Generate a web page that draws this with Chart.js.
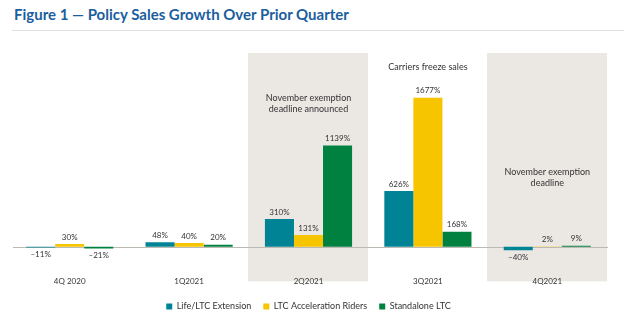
<!DOCTYPE html>
<html lang="en">
<head>
<meta charset="UTF-8">
<title>Policy Sales Growth</title>
<script src="https://cdn.jsdelivr.net/npm/chart.js"></script>
<style>
  html, body { margin: 0; padding: 0; background: #fff; }
  body { width: 624px; height: 321px; position: relative; overflow: hidden; font-family: Lato, sans-serif; }
  #title { position: absolute; left: 14px; top: 5px; font-size: 15px; font-weight: bold; color: #1b5e9e; white-space: nowrap; }
  #rule { position: absolute; left: 12px; right: 0; top: 30px; height: 1px; background: #e4e1dc; }
  #wrap { position: absolute; left: 0; top: 36px; width: 624px; height: 285px; }
</style>
</head>
<body>
<div id="title">Figure 1 — Policy Sales Growth Over Prior Quarter</div>
<div id="rule"></div>
<div id="wrap"><canvas id="chart"></canvas></div>

<script>
// Data
const quarters = ['4Q 2020', '1Q2021', '2Q2021', '3Q2021', '4Q2021'];
const lifeExtension = [-11, 48, 310, 626, -40];
const accelRiders = [30, 40, 131, 1677, 2];
const standaloneLtc = [-21, 20, 1139, 168, 9];

// Shaded quarters and notes (anchored to category + value)
const shadedQuarters = ['2Q2021', '4Q2021'];
const notes = [
  { quarter: '2Q2021', value: 1675, lines: ['November exemption', 'deadline announced'] },
  { quarter: '3Q2021', value: 2020, lines: ['Carriers freeze sales'] },
  { quarter: '4Q2021', value: 840, lines: ['November exemption', 'deadline'] }
];

const textColor = '#333';

// Background panels behind shaded quarters
const panels = {
  id: 'panels',
  beforeDraw(chart) {
    const { ctx, chartArea, scales: { x } } = chart;
    const step = x.getPixelForValue(1) - x.getPixelForValue(0);
    ctx.save();
    ctx.fillStyle = '#ebe8e4';
    shadedQuarters.forEach(q => {
      const cx = x.getPixelForValue(quarters.indexOf(q));
      ctx.fillRect(Math.round(cx - step / 2) - 1, chartArea.top, Math.round(step) + 1, chartArea.bottom - chartArea.top + 17);
    });
    // zero line
    const y0 = chart.scales.y.getPixelForValue(0);
    ctx.strokeStyle = '#bdb9b3';
    ctx.lineWidth = 1;
    ctx.beginPath();
    ctx.moveTo(chartArea.left + 3, Math.round(y0) + 0.5);
    ctx.lineTo(chartArea.right + 1, Math.round(y0) + 0.5);
    ctx.stroke();
    ctx.restore();
  }
};

// Value labels and notes
const labels = {
  id: 'labels',
  afterDatasetsDraw(chart) {
    const { ctx, scales: { x, y } } = chart;
    ctx.save();
    ctx.fillStyle = textColor;
    ctx.font = '8px Lato, sans-serif';
    ctx.textAlign = 'center';
    chart.data.datasets.forEach((ds, i) => {
      chart.getDatasetMeta(i).data.forEach((bar, j) => {
        const v = ds.data[j];
        if (v >= 0) {
          ctx.textBaseline = 'bottom';
          ctx.fillText(v + '%', bar.x, bar.y - 3);
        } else {
          ctx.textBaseline = 'top';
          ctx.fillText('\u2013' + Math.abs(v) + '%', bar.x, bar.y + 3);
        }
      });
    });
    ctx.font = '9px Lato, sans-serif';
    ctx.textBaseline = 'middle';
    notes.forEach(n => {
      const cx = x.getPixelForValue(quarters.indexOf(n.quarter));
      const cy = y.getPixelForValue(n.value);
      n.lines.forEach((line, k) => ctx.fillText(line, cx, cy + k * 11));
    });
    ctx.restore();
  }
};

new Chart(document.getElementById('chart'), {
  type: 'bar',
  data: {
    labels: quarters,
    datasets: [
      { label: 'Life/LTC Extension', data: lifeExtension, backgroundColor: '#008394' },
      { label: 'LTC Acceleration Riders', data: accelRiders, backgroundColor: '#f7c400' },
      { label: 'Standalone LTC', data: standaloneLtc, backgroundColor: '#008140' }
    ]
  },
  options: {
    responsive: true,
    maintainAspectRatio: false,
    animation: false,
    datasets: { bar: { barPercentage: 1, categoryPercentage: 0.73 } },
    layout: { padding: { top: 17, left: 10, right: 17 } },
    plugins: {
      legend: {
        position: 'bottom',
        labels: {
          usePointStyle: true, pointStyle: 'rect', boxWidth: 6, boxHeight: 6,
          color: textColor, font: { size: 9, family: 'Lato, sans-serif' }, padding: 12
        }
      },
      tooltip: { enabled: false }
    },
    scales: {
      x: {
        grid: { display: false },
        border: { display: false },
        ticks: { color: textColor, font: { size: 8, family: 'Lato, sans-serif' }, padding: 4 }
      },
      y: { display: false, min: -200, max: 2180 }
    }
  },
  plugins: [panels, labels]
});
</script>
</body>
</html>
